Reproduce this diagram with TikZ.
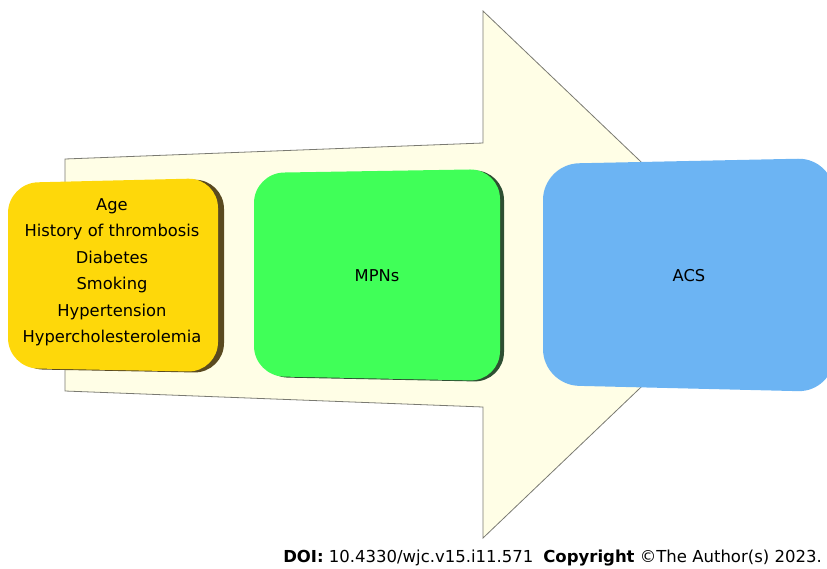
\documentclass[tikz,border=0pt]{standalone}
\usepackage{fontspec}
\setmainfont{DejaVu Sans}
\definecolor{arrowfill}{HTML}{FFFEE6}
\definecolor{arrowline}{HTML}{7A7A72}
\definecolor{boxyellow}{HTML}{FED80A}
\definecolor{boxgreen}{HTML}{40FF58}
\definecolor{boxblue}{HTML}{6CB4F3}
\definecolor{shadeyellow}{HTML}{5A4A20}
\definecolor{shadegreen}{HTML}{2E4F32}
\tikzset{
  bigarrow/.style={fill=arrowfill, draw=arrowline, line width=0.8pt, line join=miter},
  roundbox/.style={rounded corners=30pt},
  boxtext/.style={font=\fontsize{16.3}{26.5}\selectfont, align=center, text=black, inner sep=0pt},
  foot/.style={font=\fontsize{16.5}{20}\selectfont, inner sep=0pt, anchor=base east}
}
\begin{document}
\begin{tikzpicture}[x=1pt,y=-1pt]
\useasboundingbox (0,0) rectangle (827,568);
% big perspective arrow
\draw[bigarrow] (65,159) -- (483,143) -- (483,11) -- (759,274.5) -- (483,538) -- (483,407) -- (65,391) -- cycle;
% yellow box with shadow
\fill[shadeyellow, roundbox] (13,184) -- (224,179) -- (224,373) -- (13,369) -- cycle;
\fill[boxyellow, roundbox] (8,183) -- (218,178) -- (218,372) -- (8,368) -- cycle;
% green box with shadow
\fill[shadegreen, roundbox] (258,174) -- (504,170) -- (504,382) -- (258,377) -- cycle;
\fill[boxgreen, roundbox] (254,173) -- (500,169) -- (500,381) -- (254,376) -- cycle;
% blue box
\fill[boxblue, rounded corners=36pt] (543,164) -- (834,158) -- (834,392) -- (543,385) -- cycle;
% texts
\node[boxtext] (risk) at (112,272) {Age\\History of thrombosis\\Diabetes\\Smoking\\Hypertension\\Hypercholesterolemia};
\node[boxtext] (mpn) at (377,276) {MPNs};
\node[boxtext] (acs) at (689,276) {ACS};
\node[foot] (doi) at (822,562) {\textbf{DOI:} 10.4330/wjc.v15.i11.571\hspace{0.6em}\textbf{Copyright} ©The Author(s) 2023.};
\end{tikzpicture}
\end{document}
